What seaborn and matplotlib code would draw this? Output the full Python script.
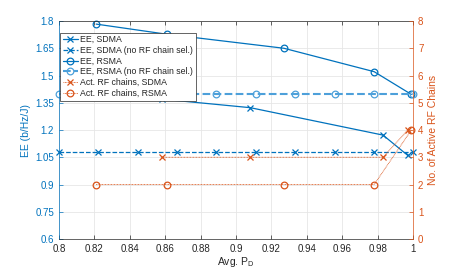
import numpy as np
import pandas as pd
import matplotlib
matplotlib.use("Agg")
import matplotlib.pyplot as plt
import seaborn as sns

# ---- data ----
pd_full = [0.8, 0.8222, 0.8444, 0.8667, 0.8889, 0.9111, 0.9333, 0.9556, 0.9778, 1.0]
ee_sdma_nosel = [1.077] * 10
ee_rsma_nosel = [1.40] * 10

pd_sdma = [0.858, 0.908, 0.983, 0.997]
ee_sdma = [1.370, 1.323, 1.172, 1.060]
rf_sdma = [3, 3, 3, 4]

pd_rsma = [0.821, 0.861, 0.927, 0.978, 0.999]
ee_rsma = [1.783, 1.727, 1.650, 1.521, 1.396]
rf_rsma = [2, 2, 2, 2, 4]

x_ticks = [0.8, 0.82, 0.84, 0.86, 0.88, 0.9, 0.92, 0.94, 0.96, 0.98, 1.0]
x_tick_labels = ["0.8", "0.82", "0.84", "0.86", "0.88", "0.9", "0.92", "0.94", "0.96", "0.98", "1"]
yl_ticks = [0.6, 0.75, 0.9, 1.05, 1.2, 1.35, 1.5, 1.65, 1.8]
yl_tick_labels = ["0.6", "0.75", "0.9", "1.05", "1.2", "1.35", "1.5", "1.65", "1.8"]
yr_ticks = [0, 1, 2, 3, 4, 5, 6, 7, 8]

labels = ["EE, SDMA", "EE, SDMA (no RF chain sel.)", "EE, RSMA",
          "EE, RSMA (no RF chain sel.)", "Act. RF chains, SDMA", "Act. RF chains, RSMA"]

sns.set_style("ticks")
plt.rcParams["font.family"] = ["Liberation Sans", "DejaVu Sans"]
plt.rcParams["mathtext.fontset"] = "custom"
plt.rcParams["mathtext.rm"] = "Liberation Sans"
plt.rcParams["mathtext.it"] = "Liberation Sans"

BLUE = "#0072BD"
LBLUE = "#4DA0DA"
ORANGE = "#D95319"

fig = plt.figure(figsize=(4.57, 2.71), dpi=100)
ax = fig.add_axes([0.129, 0.118, 0.775, 0.8045])
ax2 = ax.twinx()

def style(color, marker, ls, lw):
    d = dict(color=color, lw=lw, ls=ls, marker=marker, markeredgecolor=color,
             markeredgewidth=0.9, legend=False)
    if marker == "o":
        d.update(markersize=4.8, markerfacecolor="none")
    else:
        d.update(markersize=4.5)
    return d

sns.lineplot(x=pd_sdma, y=ee_sdma, ax=ax, label=labels[0], **style(BLUE, "x", "-", 0.9))
sns.lineplot(x=pd_full, y=ee_sdma_nosel, ax=ax, label=labels[1], **style(BLUE, "x", "--", 0.9))
sns.lineplot(x=pd_rsma, y=ee_rsma, ax=ax, label=labels[2], **style(BLUE, "o", "-", 0.9))
sns.lineplot(x=pd_full, y=ee_rsma_nosel, ax=ax, label=labels[3], **style(LBLUE, "o", "--", 1.5))
sns.lineplot(x=pd_sdma, y=rf_sdma, ax=ax2, label=labels[4], **style(ORANGE, "x", (0, (1, 0.8)), 0.6))
sns.lineplot(x=pd_rsma, y=rf_rsma, ax=ax2, label=labels[5], **style(ORANGE, "o", (0, (1, 0.8)), 0.6))

for l in ax.lines + ax2.lines:
    l.set_clip_on(False)

ax.set_xlim(0.8, 1.0)
ax.set_ylim(0.6, 1.8)
ax2.set_ylim(0, 8)
ax.set_xticks(x_ticks)
ax.set_xticklabels(x_tick_labels)
ax.set_yticks(yl_ticks)
ax.set_yticklabels(yl_tick_labels)
ax2.set_yticks(yr_ticks)

ax.grid(True, color="#E6E6E6", lw=0.6)
ax.set_axisbelow(True)

fs = 7
ax.tick_params(axis="x", direction="in", top=True, labelsize=fs, colors="#262626", length=3, width=0.5)
ax.tick_params(axis="y", direction="in", labelsize=fs, colors=BLUE, length=3, width=0.5, right=False)
ax2.tick_params(axis="y", direction="in", labelsize=fs, colors=ORANGE, length=3, width=0.5)

for s in ["top", "bottom"]:
    ax.spines[s].set_color("#262626")
    ax.spines[s].set_linewidth(0.5)
ax.spines["left"].set_color(BLUE)
ax.spines["left"].set_linewidth(0.5)
ax2.spines["right"].set_color(ORANGE)
ax2.spines["right"].set_linewidth(0.5)
ax2.spines["left"].set_visible(False)
ax2.spines["top"].set_visible(False)
ax2.spines["bottom"].set_visible(False)
ax.spines["right"].set_visible(False)

ax.set_xlabel(r"Avg. P$_{\mathregular{D}}$", fontsize=fs + 0.5, color="#262626", labelpad=1)
ax.set_ylabel("EE (b/Hz/J)", fontsize=fs + 0.5, color=BLUE, labelpad=3)
ax2.set_ylabel("No. of Active RF Chains", fontsize=fs + 0.5, color=ORANGE, labelpad=3)

h1, l1 = ax.get_legend_handles_labels()
h2, l2 = ax2.get_legend_handles_labels()
leg = ax2.legend(h1 + h2, l1 + l2, loc="upper left", bbox_to_anchor=(0.003, 0.947),
                 fontsize=6.3, frameon=True, fancybox=False, borderaxespad=0,
                 handlelength=1.7, handletextpad=0.3, labelspacing=0.2, borderpad=0.3)
leg.get_frame().set_edgecolor("#262626")
leg.get_frame().set_linewidth(0.5)
leg.get_frame().set_alpha(1)

fig.savefig("out.png", dpi=100)
